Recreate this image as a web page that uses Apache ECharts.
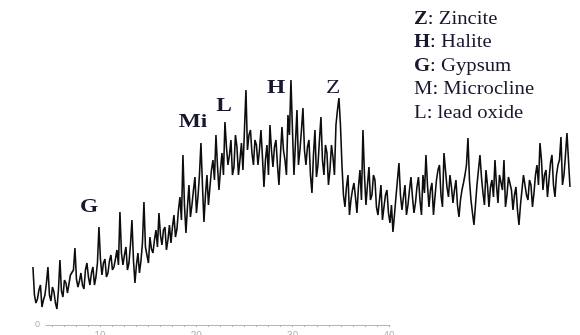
<!DOCTYPE html>
<html>
<head>
<meta charset="utf-8">
<script src="https://cdn.jsdelivr.net/npm/echarts@6/dist/echarts.min.js"></script>
<style>
  html, body { margin: 0; padding: 0; background: #fff; }
  #chart { width: 580px; height: 335px; }
</style>
</head>
<body>
<div id="chart"></div>
<script>
// 2θ of the first sample and spacing between main samples (degrees)
const startAngle = 3.04;
const stepAngle = 0.3115;

// intensity (arbitrary units, 0 = baseline axis), main samples
const intensity = [
  58, 22, 35, 18, 30, 58, 24, 33, 16, 65,
  28, 42, 30, 48, 77, 38, 52, 36, 62, 40,
  58, 48, 98, 50, 66, 52, 70, 58, 75, 113,
  60, 78, 62, 105, 42, 72, 64, 123, 70, 88,
  72, 95, 112, 80, 98, 85, 82, 110, 96, 128,
  170, 92, 140, 120, 148, 128, 182, 103, 150, 138,
  165, 190, 135, 172, 203, 160, 185, 158, 178, 165,
  155, 235, 190, 172, 185, 160, 195, 138, 180, 200,
  158, 185, 140, 198, 165, 210, 245, 150, 215, 175,
  217, 160, 185, 132, 195, 160, 208, 150, 172, 155,
  168, 200, 227, 160, 118, 150, 125, 142, 112, 155,
  195, 120, 158, 130, 145, 110, 140, 118, 135, 102,
  93, 128, 162, 115, 140, 120, 148, 112, 138, 125,
  150, 170, 118, 142, 128, 155, 130, 172, 138, 150,
  122, 145, 108, 135, 150, 187, 125, 100, 140, 170,
  132, 155, 118, 145, 165, 122, 148, 165, 130, 150,
  115, 138, 100, 135, 148, 125, 140, 132, 160, 182,
  135, 155, 145, 170, 128, 160, 188, 150, 192, 138
];

// readings half-way between the main samples (the dense noise in between)
const intensityMid = [
  30, 26, 40, 25, 42, 30, 38, 22, 35, 34,
  45, 32, 50, 55, 46, 44, 40, 55, 48, 52,
  40, 62, 66, 62, 48, 64, 55, 66, 60, 72,
  70, 55, 80, 65, 60, 52, 82, 78, 62, 76,
  85, 78, 90, 95, 75, 100, 98, 88, 115, 105,
  120, 118, 108, 135, 112, 150, 140, 130, 120, 155,
  145, 160, 155, 150, 178, 170, 150, 190, 150, 182,
  195, 175, 195, 160, 180, 175, 168, 165, 150, 175,
  178, 160, 170, 175, 150, 190, 195, 182, 160, 195,
  175, 178, 150, 170, 148, 185, 165, 180, 140, 180,
  150, 215, 200, 130, 138, 110, 135, 128, 138, 125,
  150, 140, 125, 150, 118, 125, 105, 130, 112, 120,
  110, 145, 130, 128, 110, 135, 128, 122, 148, 110,
  132, 140, 135, 110, 145, 160, 118, 155, 128, 138,
  135, 120, 125, 142, 160, 145, 112, 120, 155, 148,
  120, 140, 138, 128, 140, 150, 135, 118, 148, 135,
  130, 115, 120, 150, 130, 145, 118, 150, 140, 165,
  150, 128, 162, 140, 150, 165, 140, 170, 165
];

// peak annotations: label, 2θ, height where the letter sits, bold?
const peakNames = ['G', 'Mi', 'L', 'H', 'Z'];
const peakAngles = [8.86, 19.66, 22.88, 28.28, 34.2];
const peakHeights = [118, 203, 219, 237, 237];
const peakBold = [true, true, true, true, false];

// phase key
const keyCodes = ['Z', 'H', 'G', 'M', 'L'];
const keyNames = ['Zincite', 'Halite', 'Gypsum', 'Microcline', 'lead oxide'];
const keyBold = [true, true, true, false, false];

const axisLabels = [10, 20, 30, 40];

const minorTicks = [];
for (let t = 5; t <= 40; t += 1.25) minorTicks.push(t);

const seriesData = [];
intensity.forEach((v, i) => {
  seriesData.push([startAngle + i * stepAngle, v]);
  if (i < intensityMid.length) {
    seriesData.push([startAngle + (i + 0.5) * stepAngle, intensityMid[i]]);
  }
});

const chart = echarts.init(document.getElementById('chart'), null, { renderer: 'canvas' });

const serif = '"Liberation Serif", "DejaVu Serif", serif';
const ink = '#17172e';

chart.setOption({
  animation: false,
  backgroundColor: '#fff',
  grid: [
    { left: 0, right: 0, top: 0, bottom: 10, outerBoundsMode: 'none', containLabel: false },
    { left: 46, right: 190, top: 0, bottom: 10, outerBoundsMode: 'none', containLabel: false }
  ],
  xAxis: [
    { type: 'value', gridIndex: 0, min: -0.38, max: 59.84, show: false },
    {
      type: 'value', gridIndex: 1, min: 4.4, max: 40.1,
      axisLine: { show: true, lineStyle: { color: '#b5b5b5', width: 1 } },
      axisTick: { show: true, customValues: minorTicks, length: 2, lineStyle: { color: '#b0b0b0' } },
      axisLabel: { customValues: axisLabels, color: '#b0b0b0', fontSize: 10, margin: 6 },
      splitLine: { show: false }
    }
  ],
  yAxis: [
    { type: 'value', gridIndex: 0, min: 0, max: 325, show: false },
    {
      type: 'value', gridIndex: 1, min: 0, max: 325,
      axisLine: { show: false },
      axisTick: { show: false },
      axisLabel: { customValues: [0], color: '#b0b0b0', fontSize: 9, margin: 6 },
      splitLine: { show: false }
    }
  ],
  series: [
    {
      type: 'line',
      xAxisIndex: 0,
      yAxisIndex: 0,
      data: seriesData,
      showSymbol: false,
      lineStyle: { color: '#0d0d0d', width: 1.6 },
      z: 3
    }
  ]
});

// peak letters and phase key as graphic text (stretched like the source image)
const graphics = [];
peakNames.forEach((name, i) => {
  const p = chart.convertToPixel({ gridIndex: 0 }, [peakAngles[i], peakHeights[i]]);
  graphics.push({
    type: 'text',
    x: p[0], y: p[1],
    scaleX: 1.3,
    style: {
      x: 0, y: 0,
      text: name,
      font: (peakBold[i] ? 'bold ' : '') + '18px ' + serif,
      fill: ink,
      align: 'center',
      verticalAlign: 'middle'
    },
    z: 10
  });
});

const keyTop = 19;
const keyStep = 23.5;
keyCodes.forEach((code, i) => {
  graphics.push({
    type: 'text',
    x: 414, y: keyTop + i * keyStep,
    scaleX: 1.15,
    style: {
      x: 0, y: 0,
      text: '{c|' + code + '}: ' + keyNames[i],
      font: '18px ' + serif,
      fill: ink,
      align: 'left',
      verticalAlign: 'middle',
      rich: {
        c: {
          fontFamily: serif,
          fontSize: 18,
          fontWeight: keyBold[i] ? 'bold' : 'normal',
          fill: ink
        }
      }
    },
    z: 10
  });
});

chart.setOption({ graphic: graphics });
</script>
</body>
</html>
